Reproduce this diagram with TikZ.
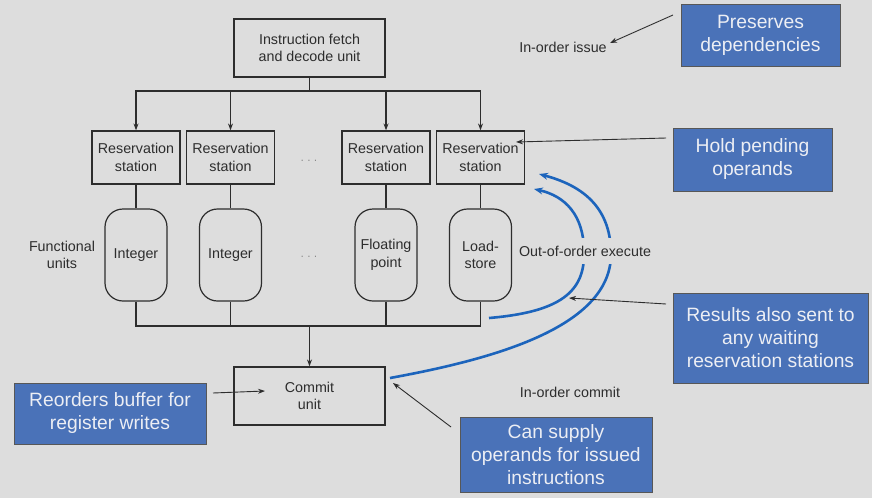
\documentclass[tikz,border=0pt]{standalone}
\usepackage{fontspec}
\setmainfont{Liberation Sans}
\usetikzlibrary{arrows.meta,calc}
\definecolor{bg}{RGB}{221,221,221}
\definecolor{noteblue}{RGB}{74,114,184}
\definecolor{curveblue}{RGB}{28,100,188}
\definecolor{ink}{RGB}{45,45,45}
\definecolor{notetext}{RGB}{236,238,244}
\begin{document}
\begin{tikzpicture}[x=1pt,y=-1pt,
  unitbox/.style={draw=ink, line width=1.2pt, inner sep=0pt, align=center, font=\fontsize{14.3}{17.5}\selectfont, text=ink},
  fubox/.style={unitbox, rounded corners=18pt, minimum width=62pt, minimum height=92pt},
  rsbox/.style={unitbox, minimum width=88pt, minimum height=53pt},
  bigbox/.style={unitbox, minimum width=151pt, minimum height=58pt},
  lbl/.style={font=\fontsize{14.3}{17.5}\selectfont, text=ink, align=center, inner sep=0pt},
  dotlbl/.style={font=\fontsize{10}{12}\selectfont, text=ink!70, inner sep=0pt},
  note/.style={fill=noteblue, draw=ink!80, line width=0.8pt, text=notetext, align=center, font=\fontsize{19.3}{23}\selectfont, inner sep=0pt},
  arr/.style={-{Stealth[length=7pt,width=5pt]}, draw=ink, line width=1.2pt},
  thinarr/.style={-{Stealth[length=7pt,width=5pt]}, draw=ink, line width=0.9pt},
  flow/.style={draw=curveblue, line width=2.6pt, -{Stealth[length=9pt,width=7pt]}}
]
\useasboundingbox[fill=bg] (0,0) rectangle (872,498);

% main units
\node[bigbox] (ifu) at (309.5,48) {Instruction fetch\\and decode unit};
\node[rsbox] (rs1) at (136,157.5) {Reservation\\station};
\node[rsbox] (rs2) at (230.5,157.5) {Reservation\\station};
\node[rsbox] (rs3) at (386,157.5) {Reservation\\station};
\node[rsbox] (rs4) at (480.5,157.5) {Reservation\\station};
\node[dotlbl] (dots1) at (309,162) {·\,\,·\,\,·};

\node[fubox] (fu1) at (136,255) {Integer};
\node[fubox] (fu2) at (230.5,255) {Integer};
\node[fubox] (fu3) at (386,255) {Floating\\point};
\node[fubox] (fu4) at (480.5,255) {Load-\\store};
\node[dotlbl] (dots2) at (309,258) {·\,\,·\,\,·};
\node[lbl] (fulbl) at (62,255) {Functional\\units};

\node[bigbox] (commit) at (309.5,396) {Commit\\unit};

% buses
\coordinate (top) at (309.5,91);
\coordinate (bot) at (309.5,326);
\draw[draw=ink, line width=1.2pt] (ifu) -- (top);
\foreach \r in {rs1,rs2,rs3,rs4} {\draw[arr] (top) -| (\r.north);}
\foreach \i in {1,2,3,4} {\draw[draw=ink, line width=1.2pt] (rs\i) -- (fu\i);}
\foreach \f in {fu1,fu2,fu3,fu4} {\draw[draw=ink, line width=1.2pt] (\f.south) |- (bot);}
\draw[arr] (bot) -- (commit);

% blue forwarding curves
\coordinate (inS) at (489,318);
\coordinate (inM) at (584,252);
\coordinate (inT) at (534,189);
\coordinate (outS) at (390,378);
\coordinate (outM) at (611,252);
\coordinate (outT) at (539,174);
\draw[flow] (inS) .. controls (560,312) and (585,292) .. (inM) .. controls (584,215) and (565,196) .. (inT);
\draw[flow] (outS) .. controls (500,358) and (613,325) .. (outM) .. controls (610,205) and (580,185) .. (outT);

% plain labels
\node[lbl] (issue) at (563,47) {In-order issue};
\node[lbl, fill=bg, inner xsep=1pt, inner ysep=8pt] (ooo) at (585,251) {Out-of-order execute};
\node[lbl] (inc) at (570,392) {In-order commit};

% notes
\node[note, minimum width=159pt, minimum height=62pt] (pres) at (760.5,35) {Preserves\\dependencies};
\node[note, minimum width=159pt, minimum height=63pt] (hold) at (752.5,159.5) {Hold pending\\operands};
\node[note, minimum width=195pt, minimum height=90pt] (res) at (770.5,338) {Results also sent to\\any waiting\\reservation stations};
\node[note, minimum width=192pt, minimum height=75pt] (can) at (556,454.5) {Can supply\\operands for issued\\instructions};
\node[note, minimum width=192pt, minimum height=61pt] (reo) at (110,413.5) {Reorders buffer for\\register writes};

% annotation arrows
\coordinate (presA) at (673,15);
\coordinate (issueT) at (610,43);
\coordinate (holdA) at (666,138);
\coordinate (holdT) at (516,142);
\coordinate (resA) at (666,304);
\coordinate (resT) at (569,298);
\coordinate (canA) at (451,427);
\coordinate (canT) at (393,383);
\coordinate (reoA) at (213,393);
\coordinate (reoT) at (265,391);
\draw[thinarr] (presA) -- (issueT);
\draw[thinarr] (holdA) -- (holdT);
\draw[thinarr] (resA) -- (resT);
\draw[thinarr] (canA) -- (canT);
\draw[thinarr] (reoA) -- (reoT);
\end{tikzpicture}
\end{document}
